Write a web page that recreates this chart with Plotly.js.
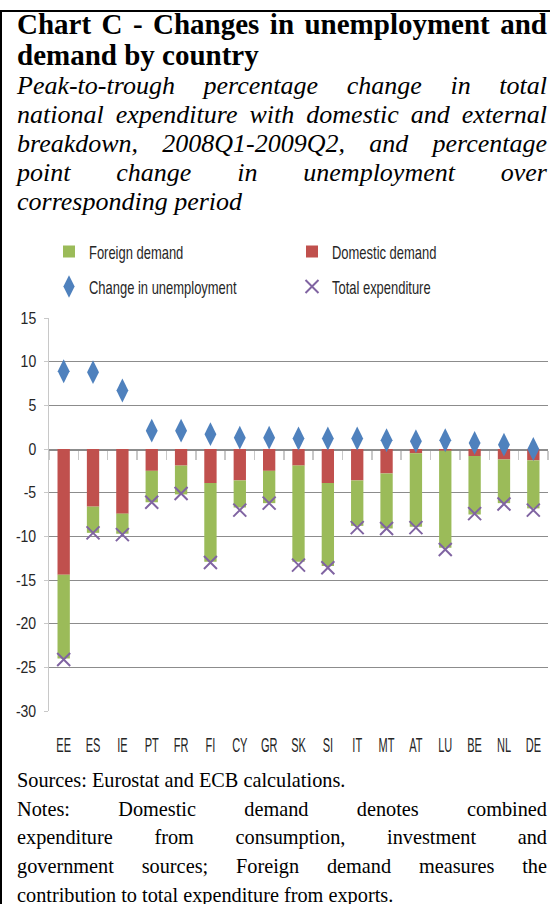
<!DOCTYPE html>
<html>
<head>
<meta charset="utf-8">
<script src="https://cdn.plot.ly/plotly-3.0.1.min.js"></script>
<style>
  html, body { margin:0; padding:0; background:#fff; }
  body { width:550px; height:904px; position:relative; overflow:hidden; }
  #frame { position:absolute; left:0; top:10px; width:560px; height:900px;
           border-left:2px solid #000; border-top:2px solid #000; box-sizing:border-box; }
  #chart { position:absolute; left:0; top:0; width:550px; height:904px; }
  .txt { position:absolute; left:17px; width:530px; color:#000; pointer-events:none; }
  .txt div { white-space:nowrap; overflow:visible; }
  .j { text-align:justify; text-align-last:justify; white-space:normal !important; }
  #title { top:9px; font-family:"Liberation Serif","Times New Roman",serif; font-weight:bold;
           font-size:29px; line-height:31px; }
  #subtitle { top:71px; font-family:"Liberation Serif","Times New Roman",serif; font-style:italic;
              font-size:26px; line-height:29px; }
  #notes { top:766px; font-family:"Liberation Serif","Times New Roman",serif;
           font-size:20.3px; line-height:28.7px; }
</style>
</head>
<body>
<div id="frame"></div>
<div id="chart"></div>
<div class="txt" id="title">
  <div class="j">Chart C - Changes in unemployment and</div>
  <div>demand by country</div>
</div>
<div class="txt" id="subtitle">
  <div class="j">Peak-to-trough percentage change in total</div>
  <div class="j">national expenditure with domestic and external</div>
  <div class="j">breakdown, 2008Q1-2009Q2, and percentage</div>
  <div class="j">point change in unemployment over</div>
  <div>corresponding period</div>
</div>
<div class="txt" id="notes">
  <div>Sources: Eurostat and ECB calculations.</div>
  <div class="j">Notes: Domestic demand denotes combined</div>
  <div class="j">expenditure from consumption, investment and</div>
  <div class="j">government sources; Foreign demand measures the</div>
  <div>contribution to total expenditure from exports.</div>
</div>
<script>
// ---- data ----
var countries = ['EE','ES','IE','PT','FR','FI','CY','GR','SK','SI','IT','MT','AT','LU','BE','NL','DE'];
var domesticDemand = [-14.4,-6.6,-7.4,-2.5,-1.9,-3.9,-3.6,-2.5,-1.9,-3.9,-3.6,-2.8,-0.5,-0.2,-0.8,-1.2,-1.3];
var foreignDemand  = [-9.6,-3.0,-2.3,-3.6,-3.3,-9.0,-3.1,-3.7,-11.0,-9.5,-5.2,-6.3,-8.4,-11.1,-6.7,-5.0,-5.5];
var unemploymentChange = [8.9,8.8,6.7,2.1,2.1,1.7,1.3,1.3,1.2,1.2,1.2,1.0,0.9,1.0,0.7,0.5,0.0];
var totalExpenditure = [-24.1,-9.6,-9.8,-6.1,-5.1,-13.0,-7.0,-6.2,-13.3,-13.6,-9.0,-9.1,-9.0,-11.5,-7.4,-6.3,-7.0];
var yTicks = [15,10,5,0,-5,-10,-15,-20,-25,-30];
var seriesNames = ['Foreign demand','Domestic demand','Change in unemployment','Total expenditure'];

var sans = '"Liberation Sans",Arial,sans-serif';
var txtColor = '#262626';

var traces = [
  {type:'bar', name:seriesNames[1], x:countries, y:domesticDemand, marker:{color:'#C0504D'},
   legend:'legend', legendrank:2, xaxis:'x', yaxis:'y'},
  {type:'bar', name:seriesNames[0], x:countries, y:foreignDemand, marker:{color:'#9BBB59'},
   legend:'legend', legendrank:1, xaxis:'x', yaxis:'y'},
  {type:'scatter', mode:'markers', name:seriesNames[2], x:countries, y:unemploymentChange,
   marker:{symbol:'diamond-tall', size:17, color:'#4F81BD'}, legend:'legend2', xaxis:'x2', yaxis:'y'},
  {type:'scatter', mode:'markers', name:seriesNames[3], x:countries, y:totalExpenditure,
   marker:{symbol:'x-thin', size:13, line:{color:'#8064A2', width:2}, color:'#8064A2'},
   legend:'legend2', xaxis:'x2', yaxis:'y'}
];

var legendCommon = {orientation:'h', xanchor:'left', yanchor:'middle', entrywidth:198,
  entrywidthmode:'pixels', bgcolor:'rgba(0,0,0,0)', borderwidth:0, traceorder:'normal',
  font:{family:sans, size:18.5, color:txtColor}, itemwidth:30};

var layout = {
  width:550, height:904,
  margin:{l:49, r:2, t:318, b:193},
  paper_bgcolor:'rgba(0,0,0,0)', plot_bgcolor:'rgba(0,0,0,0)',
  barmode:'relative', bargap:0.58,
  showlegend:true,
  legend: Object.assign({}, legendCommon, {x:0.0, y:1.168}),
  legend2: Object.assign({}, legendCommon, {x:0.0, y:1.079}),
  xaxis:{type:'category', range:[-0.5,16.5], showgrid:false, showline:false, zeroline:false,
         ticks:'outside', ticklen:16, tickcolor:'rgba(0,0,0,0)', tickangle:0, automargin:false,
         tickfont:{family:sans, size:20, color:txtColor}, fixedrange:true},
  xaxis2:{type:'category', overlaying:'x', anchor:'free', position:30/45, range:[-0.5,16.5],
          showgrid:false, showline:true, linecolor:'#8c8c8c', linewidth:1.5, zeroline:false,
          ticks:'outside', tickson:'boundaries', ticklen:9, tickcolor:'#c8c8c8', tickwidth:1.5,
          showticklabels:false, layer:'below traces', fixedrange:true},
  yaxis:{range:[-30,15], tickvals:yTicks, ticktext:yTicks.map(String), showgrid:true, gridcolor:'#8c8c8c',
         gridwidth:1, zeroline:false, showline:true, linecolor:'#c8c8c8', linewidth:1.5,
         ticks:'outside', ticklen:4, tickcolor:'#c8c8c8', ticklabelstandoff:4,
         tickfont:{family:sans, size:16.5, color:txtColor}, fixedrange:true}
};

// Narrow the chart's texts horizontally, like the condensed face of the original
var measureCtx = document.createElement('canvas').getContext('2d');
function natWidth(t) {
  var cs = window.getComputedStyle(t);
  measureCtx.font = cs.fontSize + ' ' + cs.fontFamily;
  return measureCtx.measureText(t.textContent).width;
}
function squeezeFactor(s) {
  s = s.replace(/\u2212/g, '-').trim();
  if (seriesNames.indexOf(s) >= 0) return 0.70;
  if (countries.indexOf(s) >= 0) return 0.55;
  if (yTicks.map(String).indexOf(s) >= 0) return 0.85;
  return 0;
}
var busy = false;
function narrowText(gd) {
  if (busy) return;
  busy = true;
  gd.querySelectorAll('text').forEach(function (t) {
    var txt = t.textContent;
    var f = squeezeFactor(txt);
    if (!f) return;
    if (t.getAttribute('data-nw') === txt && t.getAttribute('textLength')) return;
    var w = natWidth(t);
    if (w > 0) {
      t.setAttribute('data-nw', txt);
      t.setAttribute('textLength', (w * f).toFixed(1));
      t.setAttribute('lengthAdjust', 'spacingAndGlyphs');
    }
  });
  busy = false;
}

var gdEl = document.getElementById('chart');
var obs = new MutationObserver(function () { narrowText(gdEl); });
obs.observe(gdEl, {childList:true, subtree:true, characterData:true, attributes:true,
                   attributeFilter:['transform','style','x','y','class']});

Plotly.newPlot(gdEl, traces, layout, {displayModeBar:false, staticPlot:true})
  .then(function (gd) {
    narrowText(gd);
    gd.on('plotly_afterplot', function () { narrowText(gd); });
    [0, 20, 60, 120, 250, 500, 1000].forEach(function (ms) {
      setTimeout(function () { narrowText(gd); }, ms);
    });
  });
narrowText(gdEl);
</script>
</body>
</html>
